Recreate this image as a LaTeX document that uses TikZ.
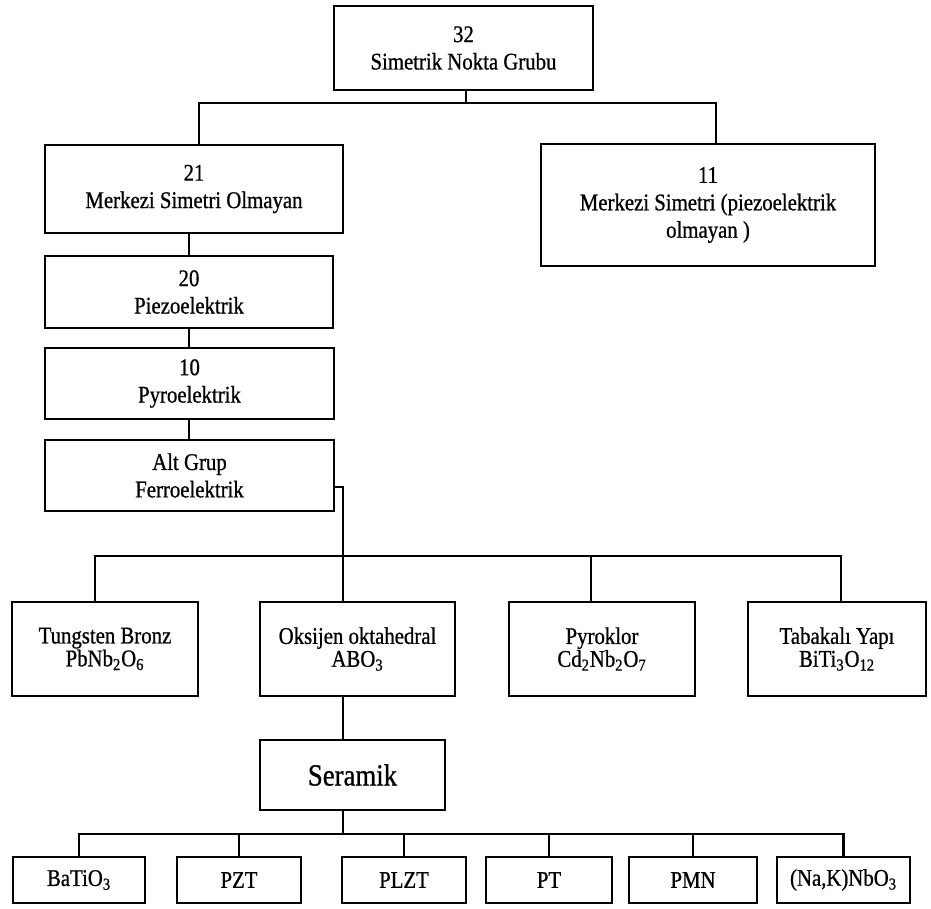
\documentclass[tikz,border=0pt]{standalone}
\usepackage{fontspec}
\setmainfont{Liberation Serif}[FakeStretch=0.87,FakeBold=0.8]
\usetikzlibrary{calc}
\newcommand{\idx}[1]{\textsubscript{#1}}
\begin{document}
\begin{tikzpicture}[x=0.02cm,y=-0.02cm,line width=1.3pt,font=\fontsize{13.6}{15.6}\selectfont,
	grp/.style={draw,line width=1.3pt,align=center,inner sep=0pt},
	kat/.style={grp,minimum height=1.88cm,font=\fontsize{13.6}{13}\selectfont},
	mal/.style={grp,minimum height=0.92cm}]
				\useasboundingbox (0,0) rectangle (931,909);
				\node[grp,minimum width=5.18cm,minimum height=1.68cm] (g32) at (463.5,48) {32\\Simetrik Nokta Grubu};
				\node[grp,minimum width=5.96cm,minimum height=1.76cm] (g21) at (194,189) {21\\Merkezi Simetri Olmayan};
				\node[grp,minimum width=6.68cm,minimum height=2.44cm] (g11) at (708,205) {11\\Merkezi Simetri (piezoelektrik\\olmayan )};
				\node[grp,minimum width=5.76cm,minimum height=1.44cm] (g20) at (189,292) {20\\Piezoelektrik};
				\node[grp,minimum width=5.78cm,minimum height=1.42cm] (g10) at (189.5,383.5) {10\\Pyroelektrik};
				\node[grp,minimum width=5.78cm,minimum height=1.42cm] (alt) at (189.5,475.5) {Alt Grup\\Ferroelektrik};
				\node[kat,minimum width=3.72cm] (tb) at (105,649) {Tungsten Bronz\\PbNb\idx{2}O\idx{6}};
				\node[kat,minimum width=3.90cm] (ok) at (357.5,649) {Oksijen oktahedral\\ABO\idx{3}};
				\node[kat,minimum width=3.72cm] (py) at (602,649) {Pyroklor\\Cd\idx{2}Nb\idx{2}O\idx{7}};
				\node[kat,minimum width=3.56cm] (ty) at (837,649) {Tabakalı Yapı\\BiTi\idx{3}O\idx{12}};
				\node[grp,minimum width=3.70cm,minimum height=1.40cm,font=\fontsize{17.5}{20}\selectfont] (ser) at (352.5,775) {Seramik};
				\node[mal,minimum width=2.64cm] (m1) at (79,880) {BaTiO\idx{3}};
				\node[mal,minimum width=2.48cm] (m2) at (239,880) {PZT};
				\node[mal,minimum width=2.48cm] (m3) at (404,880) {PLZT};
				\node[mal,minimum width=2.52cm] (m4) at (549,880) {PT};
				\node[mal,minimum width=2.56cm] (m5) at (693,880) {PMN};
				\node[mal,minimum width=2.66cm] (m6) at (843.5,880) {(Na,K)NbO\idx{3}};
				\coordinate (j1) at (466,103);
				\coordinate (j2) at (343,556);
				\coordinate (j3) at (343,834);
				\draw (g32.south -| j1) -- (j1);
				\draw ($(g21.north)+(5,0)$) |- (j1) -| ($(g11.north)+(8,0)$);
				\draw (g21.south -| g20) -- (g20.north);
				\draw (g20.south) -- (g10.north -| g20);
				\draw (g10.south -| g20) -- (alt.north -| g20);
				\draw ($(alt.east)+(0,11.5)$) -| (j2);
				\draw ($(tb.north)+(-10,0)$) |- (j2) -| ($(ty.north)+(4,0)$);
				\draw (ok.north -| j2) -- (j2);
				\draw ($(py.north)+(-11,0)$) |- (j2);
				\draw (ok.south -| j2) -- (ser.north -| j2);
				\draw (ser.south -| j2) -- (j3);
				\foreach \m in {m1,m2,m3,m4,m5,m6}
					\draw (\m.north) |- (j3);
			\end{tikzpicture}
\end{document}
